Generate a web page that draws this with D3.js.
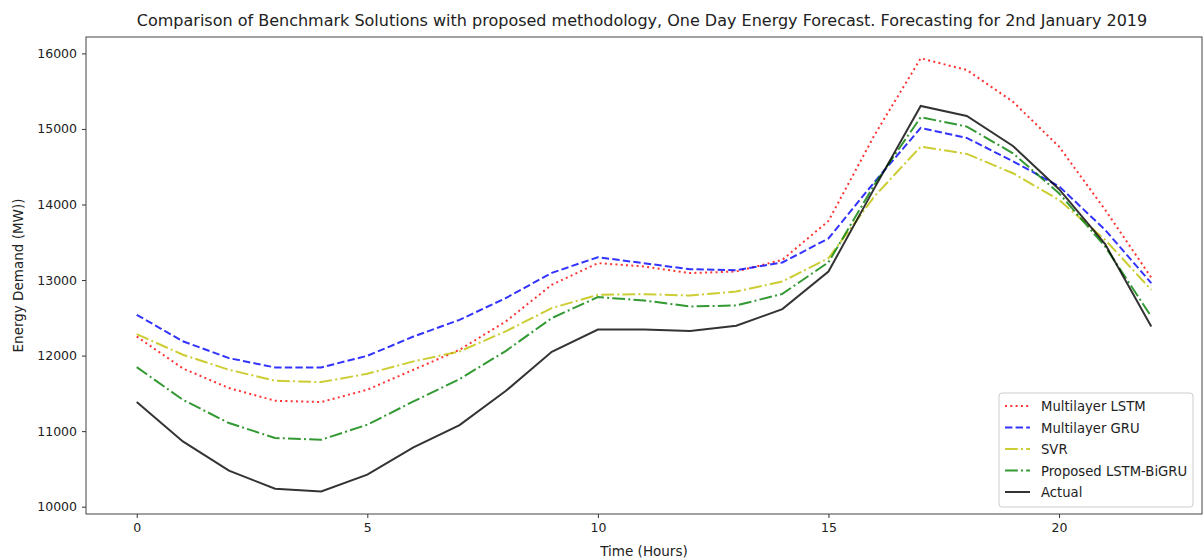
<!DOCTYPE html>
<html>
<head>
<meta charset="utf-8">
<script src="https://cdn.jsdelivr.net/npm/d3@7"></script>
<style>
  body { margin: 0; background: #fff; }
  svg text { font-family: "DejaVu Sans", sans-serif; fill: #222; }
</style>
</head>
<body>
<svg id="chart" width="1204" height="560"></svg>
<script>
// hours 0..22
const hours = d3.range(0, 23);
const xTicks = [0, 5, 10, 15, 20];
const yTicks = [10000, 11000, 12000, 13000, 14000, 15000, 16000];

const lstm = [12252, 11830, 11570, 11402, 11385, 11548, 11812, 12077, 12450, 12937, 13224, 13180,
              13092, 13113, 13267, 13782, 14921, 15935, 15780, 15361, 14766, 13929, 13033];
const gru = [12540, 12190, 11966, 11843, 11843, 11997, 12252, 12473, 12760, 13095, 13302, 13222,
             13143, 13130, 13232, 13550, 14300, 15013, 14881, 14572, 14241, 13664, 12959];
const svr = [12284, 12011, 11812, 11667, 11649, 11759, 11923, 12055, 12320, 12628, 12804, 12813,
             12795, 12848, 12980, 13289, 14110, 14766, 14669, 14414, 14061, 13532, 12870];
const proposed = [11848, 11415, 11107, 10909, 10886, 11085, 11393, 11689, 12060, 12496, 12774, 12730,
                  12650, 12663, 12817, 13235, 14268, 15155, 15031, 14678, 14149, 13443, 12517];
const actual = [11385, 10864, 10476, 10238, 10202, 10423, 10785, 11080, 11530, 12050, 12345, 12345,
                12325, 12394, 12615, 13112, 14220, 15304, 15172, 14775, 14202, 13475, 12385];

const series = [
    {name: "Multilayer LSTM", values: lstm, color: "#ff0000", dash: "2,3.3"},
    {name: "Multilayer GRU", values: gru, color: "#0000ff", dash: "7.4,3.2"},
    {name: "SVR", values: svr, color: "#bfbf00", dash: "12.8,3.2,2,3.2"},
    {name: "Proposed LSTM-BiGRU", values: proposed, color: "#008000", dash: "12.8,3.2,2,3.2"},
    {name: "Actual", values: actual, color: "#000000", dash: null}
];

const mLeft = 86, mRight = 1202, mTop = 37, mBottom = 514;
const svg = d3.select("#chart");

//scales with matplotlib-like 5% margins
const x = d3.scaleLinear().domain([-1.1, 23.1]).range([mLeft, mRight]);
const y = d3.scaleLinear().domain([9903, 16217]).range([mBottom, mTop]);

//axes
const xAxis = d3.axisBottom(x).tickValues(xTicks).tickSize(4).tickPadding(5);
const yAxis = d3.axisLeft(y).tickValues(yTicks).tickSize(4).tickPadding(5).tickFormat(d3.format("d"));

const gx = svg.append("g").attr("transform", "translate(0," + mBottom + ")").call(xAxis);
const gy = svg.append("g").attr("transform", "translate(" + mLeft + ",0)").call(yAxis);
[gx, gy].forEach(g => {
    g.select(".domain").remove();
    g.selectAll("line").attr("stroke", "#333");
    g.selectAll("text").style("font-size", "12.5px").attr("fill", "#222");
});

//frame
svg.append("rect")
    .attr("x", mLeft).attr("y", mTop)
    .attr("width", mRight - mLeft).attr("height", mBottom - mTop)
    .attr("fill", "none").attr("stroke", "#444").attr("stroke-width", 1);

//lines
const line = d3.line().x((d, i) => x(hours[i])).y(d => y(d));
series.forEach(s => {
    svg.append("path")
        .datum(s.values)
        .attr("d", line)
        .attr("fill", "none")
        .attr("stroke", s.color)
        .attr("stroke-opacity", 0.8)
        .attr("stroke-width", 2)
        .attr("stroke-dasharray", s.dash);
});

//title and labels
svg.append("text")
    .attr("x", (mLeft + mRight) / 2 - 2).attr("y", 26)
    .attr("text-anchor", "middle")
    .style("font-size", "16px")
    .text("Comparison of Benchmark Solutions with proposed methodology, One Day Energy Forecast. Forecasting for 2nd January 2019");

svg.append("text")
    .attr("x", (mLeft + mRight) / 2).attr("y", 556)
    .attr("text-anchor", "middle")
    .style("font-size", "13.5px")
    .text("Time (Hours)");

svg.append("text")
    .attr("transform", "translate(23," + (mTop + mBottom) / 2 + ") rotate(-90)")
    .attr("text-anchor", "middle")
    .style("font-size", "13.5px")
    .text("Energy Demand (MW))");

//legend
const lg = svg.append("g").attr("transform", "translate(999,393)");
lg.append("rect")
    .attr("width", 194).attr("height", 114).attr("rx", 3)
    .attr("fill", "#fff").attr("fill-opacity", 0.8)
    .attr("stroke", "#ccc");
series.forEach((s, i) => {
    const yy = 13 + i * 21.5;
    lg.append("line")
        .attr("x1", 6).attr("x2", 31).attr("y1", yy).attr("y2", yy)
        .attr("stroke", s.color).attr("stroke-opacity", 0.8)
        .attr("stroke-width", 2).attr("stroke-dasharray", s.dash);
    lg.append("text")
        .attr("x", 42).attr("y", yy + 5)
        .style("font-size", "13.2px")
        .text(s.name);
});
</script>
</body>
</html>
